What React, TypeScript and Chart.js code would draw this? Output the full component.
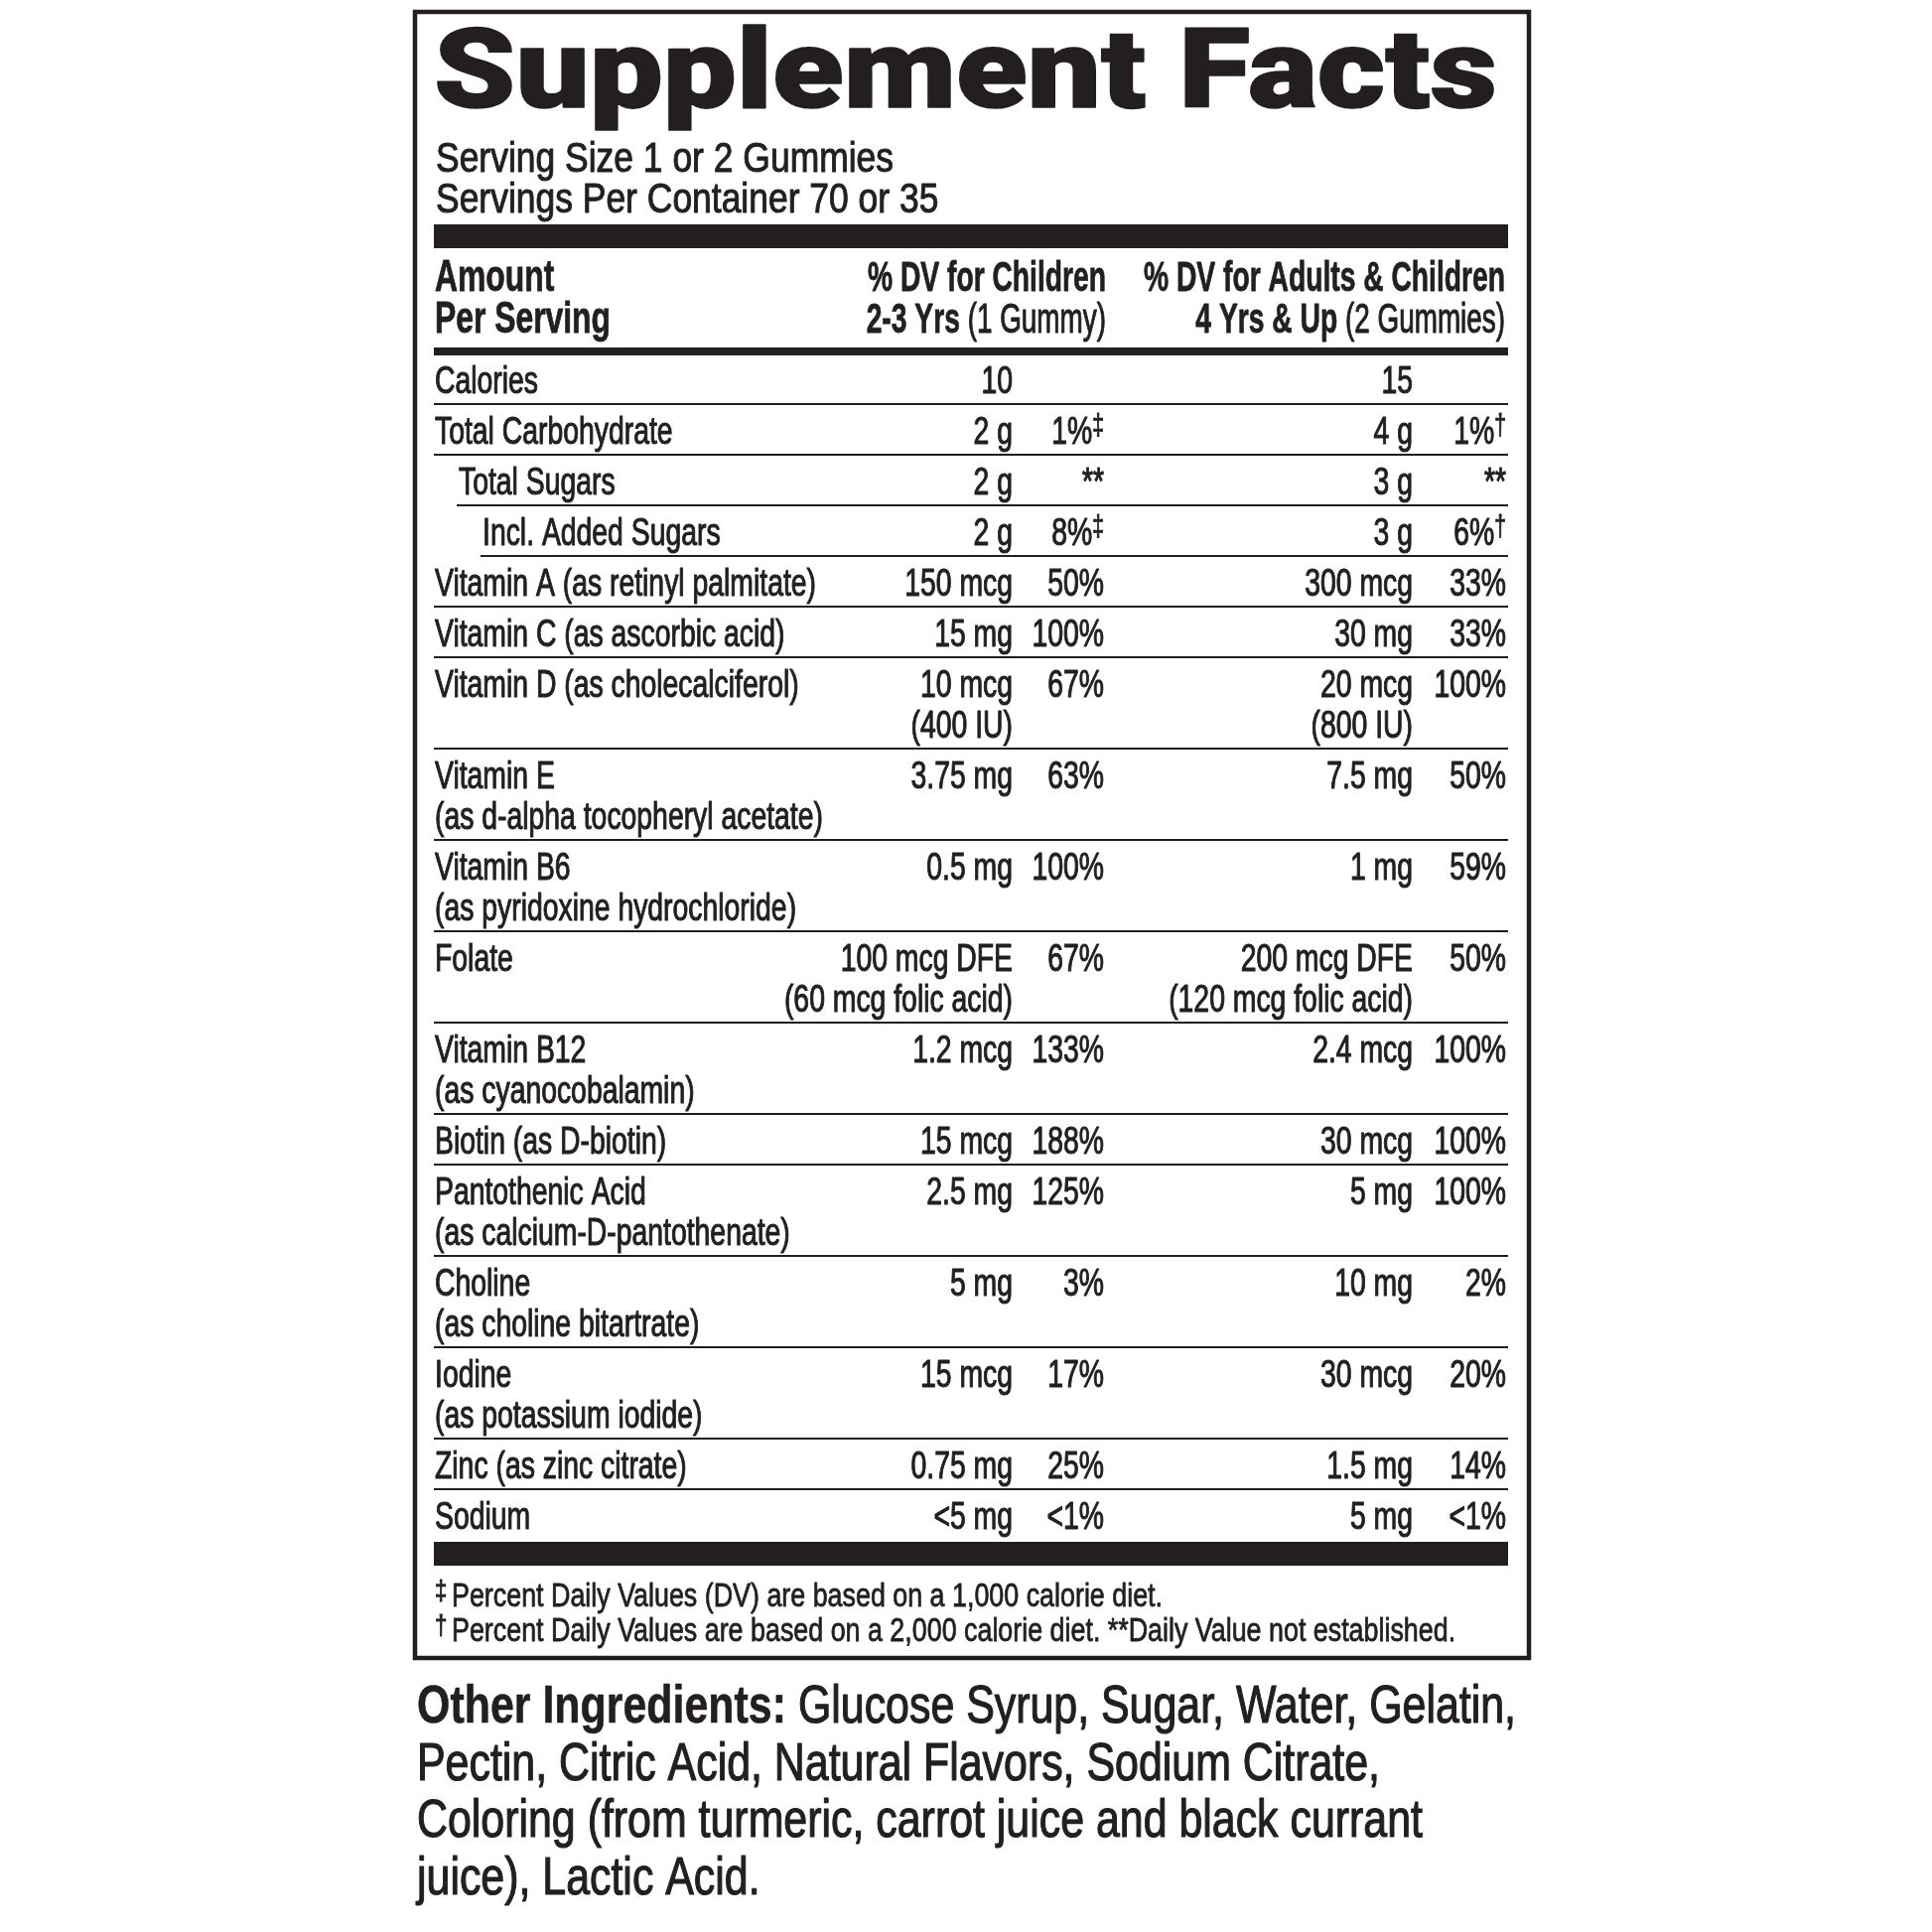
import React, { useEffect, useRef } from "react";
import { Chart, registerables } from "chart.js";

Chart.register(...registerables);

// ---------------- data ----------------
const TITLE = "Supplement Facts";
const SERVING_LINES = ["Serving Size 1 or 2 Gummies", "Servings Per Container 70 or 35"];
const HEADER_AMOUNT = ["Amount", "Per Serving"];
const HEADER_CHILD_TOP = "% DV for Children";
const HEADER_CHILD_BOLD = "2-3 Yrs ";
const HEADER_CHILD_REG = "(1 Gummy)";
const HEADER_ADULT_TOP = "% DV for Adults & Children";
const HEADER_ADULT_BOLD = "4 Yrs & Up ";
const HEADER_ADULT_REG = "(2 Gummies)";

const NUTRIENT_NAMES: string[][] = [
  ["Calories"],
  ["Total Carbohydrate"],
  ["Total Sugars"],
  ["Incl. Added Sugars"],
  ["Vitamin A (as retinyl palmitate)"],
  ["Vitamin C (as ascorbic acid)"],
  ["Vitamin D (as cholecalciferol)"],
  ["Vitamin E", "(as d-alpha tocopheryl acetate)"],
  ["Vitamin B6", "(as pyridoxine hydrochloride)"],
  ["Folate"],
  ["Vitamin B12", "(as cyanocobalamin)"],
  ["Biotin (as D-biotin)"],
  ["Pantothenic Acid", "(as calcium-D-pantothenate)"],
  ["Choline", "(as choline bitartrate)"],
  ["Iodine", "(as potassium iodide)"],
  ["Zinc (as zinc citrate)"],
  ["Sodium"],
];
const NUTRIENT_INDENT = [0, 0, 1, 2, 0, 0, 0, 0, 0, 0, 0, 0, 0, 0, 0, 0, 0];
const CHILD_AMOUNT: string[][] = [
  ["10"], ["2 g"], ["2 g"], ["2 g"], ["150 mcg"], ["15 mg"], ["10 mcg", "(400 IU)"],
  ["3.75 mg"], ["0.5 mg"], ["100 mcg DFE", "(60 mcg folic acid)"], ["1.2 mcg"], ["15 mcg"],
  ["2.5 mg"], ["5 mg"], ["15 mcg"], ["0.75 mg"], ["<5 mg"],
];
const CHILD_DV = ["", "1%‡", "**", "8%‡", "50%", "100%", "67%", "63%", "100%", "67%", "133%", "188%", "125%", "3%", "17%", "25%", "<1%"];
const ADULT_AMOUNT: string[][] = [
  ["15"], ["4 g"], ["3 g"], ["3 g"], ["300 mcg"], ["30 mg"], ["20 mcg", "(800 IU)"],
  ["7.5 mg"], ["1 mg"], ["200 mcg DFE", "(120 mcg folic acid)"], ["2.4 mcg"], ["30 mcg"],
  ["5 mg"], ["10 mg"], ["30 mcg"], ["1.5 mg"], ["5 mg"],
];
const ADULT_DV = ["", "1%†", "**", "6%†", "33%", "33%", "100%", "50%", "59%", "50%", "100%", "100%", "100%", "2%", "20%", "14%", "<1%"];

const FOOTNOTE_MARKS = ["‡", "†"];
const FOOTNOTE_TEXTS = [
  "Percent Daily Values (DV) are based on a 1,000 calorie diet.",
  "Percent Daily Values are based on a 2,000 calorie diet. **Daily Value not established.",
];
const OTHER_LABEL = "Other Ingredients:";
const OTHER_LINES = [
  " Glucose Syrup, Sugar, Water, Gelatin,",
  "Pectin, Citric Acid, Natural Flavors, Sodium Citrate,",
  "Coloring (from turmeric, carrot juice and black currant",
  "juice), Lactic Acid.",
];

// ---------------- layout / style ----------------
const W = 1946;
const H = 1946;
const INK = "#231f20";
const FAM = '"Liberation Sans", Arial, sans-serif';

type Style = { font: string; ref?: string; w?: number; sx?: number; base?: string; stroke?: number };
const STYLES: Record<string, Style> = {
  title: { font: `900 111px Roboto, ${FAM}`, ref: TITLE, w: 1071, stroke: 1.5 },
  serving: { font: `42px ${FAM}`, ref: SERVING_LINES[0], w: 461, stroke: 1.0 },
  headAmt: { font: `bold 44px ${FAM}`, ref: HEADER_AMOUNT[1], w: 177, stroke: 0.8 },
  headB: { font: `bold 43px ${FAM}`, ref: HEADER_ADULT_TOP, w: 364, stroke: 0.8 },
  headR: { font: `43px ${FAM}`, ref: HEADER_ADULT_REG, w: 161, stroke: 1.1 },
  body: { font: `39px ${FAM}`, ref: "Vitamin A (as retinyl palmitate)", w: 384, stroke: 1.1 },
  sup: { font: `29px ${FAM}`, base: "body", stroke: 1.0 },
  foot: { font: `34px ${FAM}`, ref: FOOTNOTE_TEXTS[0], w: 716, stroke: 0.8 },
  footSup: { font: `28px ${FAM}`, base: "foot", stroke: 1.0 },
  otherB: { font: `bold 53px ${FAM}`, ref: OTHER_LABEL, w: 372, stroke: 0.6 },
  otherR: { font: `53px ${FAM}`, ref: OTHER_LINES[1], w: 970, stroke: 1.2 },
};

const BOX = { x: 418, y: 12, w: 1122, h: 1658, lw: 4.5 };
const LEFT = 438;
const RULE_L = 437;
const RULE_R = 1519;
const COL_C_AMT = 1020;
const COL_C_DV = 1112;
const COL_A_AMT = 1423;
const COL_A_DV = 1517;
const ROW_START = 356;
const ROW_H = 51;
const ROW_EXTRA = 41;
const LINE_GAP = 41;
const BASE_OFF = 40;
const INDENT_STEP = 24;

function calibrate(ctx: CanvasRenderingContext2D) {
  for (const k of Object.keys(STYLES)) {
    const s = STYLES[k];
    if (s.ref && s.w) {
      ctx.font = s.font;
      s.sx = s.w / ctx.measureText(s.ref).width;
    }
  }
  for (const k of Object.keys(STYLES)) {
    const s = STYLES[k];
    if (s.base) s.sx = STYLES[s.base].sx;
  }
}

function width(ctx: CanvasRenderingContext2D, text: string, st: string) {
  const s = STYLES[st];
  ctx.font = s.font;
  return ctx.measureText(text).width * (s.sx || 1);
}

function draw(ctx: CanvasRenderingContext2D, text: string, x: number, y: number, st: string) {
  const s = STYLES[st];
  ctx.save();
  ctx.font = s.font;
  ctx.textAlign = "left";
  ctx.textBaseline = "alphabetic";
  ctx.fillStyle = INK;
  ctx.strokeStyle = INK;
  ctx.lineJoin = "round";
  ctx.translate(x, y);
  ctx.scale(s.sx || 1, 1);
  ctx.fillText(text, 0, 0);
  if (s.stroke) {
    ctx.lineWidth = s.stroke;
    ctx.strokeText(text, 0, 0);
  }
  ctx.restore();
}

// segments: [text, style, raise]
type Seg = [string, string, number];
function drawSegs(ctx: CanvasRenderingContext2D, segs: Seg[], x: number, y: number, align: "left" | "right") {
  const total = segs.reduce((a, s) => a + width(ctx, s[0], s[1]), 0);
  let cx = align === "right" ? x - total : x;
  for (const s of segs) {
    draw(ctx, s[0], cx, y - s[2], s[1]);
    cx += width(ctx, s[0], s[1]);
  }
}

function dvSegs(v: string): Seg[] {
  const m = v.match(/^(.*?)([‡†])$/);
  if (m) return [[m[1], "body", 0], [m[2], "sup", 9]];
  return [[v, "body", 0]];
}

const labelPlugin = {
  id: "supplementLabel",
  beforeDraw(chart: any) {
    const ctx = chart.ctx as CanvasRenderingContext2D;
    ctx.save();
    ctx.fillStyle = "#ffffff";
    ctx.fillRect(0, 0, chart.width, chart.height);
    ctx.restore();
  },
  afterDraw(chart: any) {
    const ctx = chart.ctx as CanvasRenderingContext2D;
    const xs = chart.scales.x;
    const ys = chart.scales.y;
    const X = (v: number) => xs.getPixelForValue(v);
    const Y = (v: number) => ys.getPixelForValue(v);
    calibrate(ctx);

    const bar = (x0: number, x1: number, y0: number, y1: number) => {
      ctx.fillStyle = INK;
      ctx.fillRect(X(x0), Y(y0), X(x1) - X(x0), Y(y1) - Y(y0));
    };

    // box
    ctx.save();
    ctx.strokeStyle = INK;
    ctx.lineWidth = BOX.lw;
    ctx.strokeRect(X(BOX.x), Y(BOX.y), X(BOX.x + BOX.w) - X(BOX.x), Y(BOX.y + BOX.h) - Y(BOX.y));
    ctx.restore();

    // title + serving
    draw(ctx, TITLE, X(LEFT - 1), Y(108), "title");
    SERVING_LINES.forEach((t, i) => draw(ctx, t, X(LEFT + 1), Y(173 + i * 41), "serving"));

    // thick bar
    bar(RULE_L, RULE_R, 226, 250);

    // header
    HEADER_AMOUNT.forEach((t, i) => draw(ctx, t, X(LEFT), Y(293 + i * 42), "headAmt"));
    drawSegs(ctx, [[HEADER_CHILD_TOP, "headB", 0]], X(1114), Y(293), "right");
    drawSegs(ctx, [[HEADER_CHILD_BOLD, "headB", 0], [HEADER_CHILD_REG, "headR", 0]], X(1114), Y(335), "right");
    drawSegs(ctx, [[HEADER_ADULT_TOP, "headB", 0]], X(1516), Y(293), "right");
    drawSegs(ctx, [[HEADER_ADULT_BOLD, "headB", 0], [HEADER_ADULT_REG, "headR", 0]], X(1516), Y(335), "right");

    // medium bar
    bar(RULE_L, RULE_R, 350, 358);

    // rows
    let top = ROW_START;
    NUTRIENT_NAMES.forEach((names, i) => {
      const lines = Math.max(names.length, CHILD_AMOUNT[i].length, ADULT_AMOUNT[i].length);
      const h = ROW_H + ROW_EXTRA * (lines - 1);
      const indent = NUTRIENT_INDENT[i] * INDENT_STEP;
      names.forEach((t, j) => draw(ctx, t, X(LEFT + indent), Y(top + BASE_OFF + j * LINE_GAP), "body"));
      CHILD_AMOUNT[i].forEach((t, j) => drawSegs(ctx, [[t, "body", 0]], X(COL_C_AMT), Y(top + BASE_OFF + j * LINE_GAP), "right"));
      ADULT_AMOUNT[i].forEach((t, j) => drawSegs(ctx, [[t, "body", 0]], X(COL_A_AMT), Y(top + BASE_OFF + j * LINE_GAP), "right"));
      if (CHILD_DV[i]) drawSegs(ctx, dvSegs(CHILD_DV[i]), X(COL_C_DV), Y(top + BASE_OFF), "right");
      if (ADULT_DV[i]) drawSegs(ctx, dvSegs(ADULT_DV[i]), X(COL_A_DV), Y(top + BASE_OFF), "right");
      top += h;
      if (i < NUTRIENT_NAMES.length - 1) {
        const nextIndent = NUTRIENT_INDENT[i] > 0 ? indent - 1 : 0;
        ctx.save();
        ctx.strokeStyle = INK;
        ctx.lineWidth = 2;
        ctx.beginPath();
        ctx.moveTo(X(RULE_L + nextIndent), Y(top));
        ctx.lineTo(X(RULE_R), Y(top));
        ctx.stroke();
        ctx.restore();
      }
    });

    // bottom bar
    bar(RULE_L, RULE_R, top + 2, top + 26);

    // footnotes
    FOOTNOTE_TEXTS.forEach((t, i) => {
      const y = 1618 + i * 35;
      draw(ctx, FOOTNOTE_MARKS[i], X(LEFT), Y(y - 7), "footSup");
      draw(ctx, t, X(455), Y(y), "foot");
    });

    // other ingredients
    const lx = 420;
    const bw = width(ctx, OTHER_LABEL, "otherB");
    draw(ctx, OTHER_LABEL, X(lx), Y(1735), "otherB");
    draw(ctx, OTHER_LINES[0], X(lx) + bw, Y(1735), "otherR");
    for (let i = 1; i < OTHER_LINES.length; i++) {
      draw(ctx, OTHER_LINES[i], X(lx), Y(1735 + i * 57.7), "otherR");
    }
  },
};

export default function App() {
  const ref = useRef<HTMLCanvasElement>(null);
  useEffect(() => {
    if (!ref.current) return;
    const chart = new Chart(ref.current, {
      type: "scatter",
      data: { datasets: [] },
      options: {
        animation: false,
        responsive: false,
        devicePixelRatio: 1,
        layout: { padding: 0 },
        plugins: { legend: { display: false }, tooltip: { enabled: false } },
        scales: {
          x: { type: "linear", min: 0, max: W, display: false },
          y: { type: "linear", min: 0, max: H, reverse: true, display: false },
        },
      },
      plugins: [labelPlugin],
    } as any);
    return () => chart.destroy();
  }, []);
  return (
    <div style={{ position: "fixed", left: 0, top: 0, width: W, height: H, background: "#fff" }}>
      <canvas ref={ref} width={W} height={H} style={{ display: "block" }} />
    </div>
  );
}
